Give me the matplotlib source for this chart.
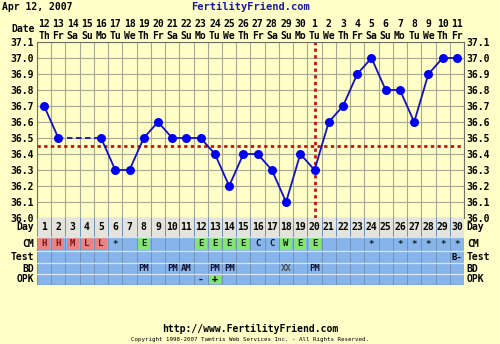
import matplotlib.pyplot as plt
import numpy as np

# cycle data
days = list(range(1, 31))
temps = [36.7, 36.5, None, None, 36.5, 36.3, 36.3, 36.5, 36.6, 36.5,
         36.5, 36.5, 36.4, 36.2, 36.4, 36.4, 36.3, 36.1, 36.4, 36.3,
         36.6, 36.7, 36.9, 37.0, 36.8, 36.8, 36.6, 36.9, 37.0, 37.0]
date_nums = ['12', '13', '14', '15', '16', '17', '18', '19', '20', '21',
             '22', '23', '24', '25', '26', '27', '28', '29', '30', '1',
             '2', '3', '4', '5', '6', '7', '8', '9', '10', '11']
weekdays = ['Th', 'Fr', 'Sa', 'Su', 'Mo', 'Tu', 'We', 'Th', 'Fr', 'Sa',
            'Su', 'Mo', 'Tu', 'We', 'Th', 'Fr', 'Sa', 'Su', 'Mo', 'Tu',
            'We', 'Th', 'Fr', 'Sa', 'Su', 'Mo', 'Tu', 'We', 'Th', 'Fr']
coverline = 36.45
ovulation_day = 20

cm = {1: 'H', 2: 'H', 3: 'M', 4: 'L', 5: 'L', 6: '*', 8: 'E', 12: 'E', 13: 'E',
      14: 'E', 15: 'E', 16: 'C', 17: 'C', 18: 'W', 19: 'E', 20: 'E', 24: '*',
      26: '*', 27: '*', 28: '*', 29: '*', 30: '*'}
test = {30: 'B-'}
bd = {8: 'PM', 10: 'PM', 11: 'AM', 13: 'PM', 14: 'PM', 18: 'XX', 20: 'PM'}
opk = {12: '-', 13: '+'}

BG = '#FFFFC8'
BLUE_CELL = '#88B4EC'
PINK = '#E88484'
GREEN = '#84E474'
FONT = 'DejaVu Sans Mono'

fig = plt.figure(figsize=(5, 3.44), dpi=100, facecolor=BG)

# temperature chart
ax = fig.add_axes([37 / 500, 126 / 344, 427 / 500, 176 / 344], facecolor=BG)
ax.set_xlim(0.5, 30.5)
ax.set_ylim(36.0, 37.1)
for x in np.arange(0.5, 31, 1):
    ax.axvline(x, color='#A8A890', lw=0.8, zorder=1)
for y in np.arange(36.0, 37.15, 0.1):
    ax.axhline(y, color='#A8A890', lw=0.8, zorder=1)
for s in ax.spines.values():
    s.set_color('#707060')

# connected segments, dashed across missing days
x_known = [d for d, t in zip(days, temps) if t is not None]
t_known = [t for t in temps if t is not None]
for i in range(len(x_known) - 1):
    style = '-' if x_known[i + 1] - x_known[i] == 1 else (0, (3, 2))
    ax.plot(x_known[i:i + 2], t_known[i:i + 2], color='#1010C0', lw=1.3,
            linestyle=style, zorder=3)
ax.scatter(x_known, t_known, s=30, color='#0000F0', zorder=4)

ax.axhline(coverline, color='#CC1010', lw=2, linestyle=(0, (1.2, 1.2)), zorder=2)
ax.axvline(ovulation_day, color='#CC1010', lw=2, linestyle=(0, (1.2, 1.2)), zorder=2)

ticks = np.round(np.arange(36.0, 37.15, 0.1), 1)
ax.set_yticks(ticks)
ax.set_yticklabels([f'{t:.1f}' for t in ticks], fontsize=7, fontweight='bold', family=FONT)
ax.tick_params(axis='y', length=0, pad=2, labelright=True)
ax.set_xticks(days)
ax.set_xticklabels([f'{n}\n{w}' for n, w in zip(date_nums, weekdays)],
                   fontsize=7, fontweight='bold', family=FONT, linespacing=1.15)
ax.tick_params(axis='x', length=0, pad=1, labeltop=True, labelbottom=False)

# observation table
tb = fig.add_axes([37 / 500, 59 / 344, 427 / 500, 67 / 344])
tb.set_xlim(0.5, 30.5)
tb.set_ylim(67, 0)
tb.axis('off')
rows = [('Day', 0, 19), ('CM', 19, 33), ('Test', 33, 45), ('BD', 45, 56), ('OPK', 56, 67)]
for name, y0, y1 in rows:
    fill = '#E4E4DC' if name == 'Day' else BLUE_CELL
    tb.fill_between([0.5, 30.5], y0, y1, color=fill, lw=0)
    tb.text(0.3, (y0 + y1) / 2, name, ha='right', va='center', fontsize=7,
            fontweight='bold', family=FONT)
    tb.text(30.7, (y0 + y1) / 2, name, ha='left', va='center', fontsize=7,
            fontweight='bold', family=FONT)

for d in days:
    tb.text(d, 9.5, str(d), ha='center', va='center', fontsize=7,
            fontweight='bold', family=FONT)
for d, v in cm.items():
    c = PINK if v in 'HML' else (GREEN if v in 'EW' else None)
    if c:
        tb.fill_between([d - 0.42, d + 0.42], 20, 32, color=c, lw=0)
    tb.text(d, 26, v, ha='center', va='center', fontsize=6.5, fontweight='bold',
            family=FONT, color='#801010' if v in 'HML' else '#102010')
for d, v in test.items():
    tb.text(d, 39, v, ha='center', va='center', fontsize=6.5, fontweight='bold', family=FONT)
for d, v in bd.items():
    tb.text(d, 50.5, v, ha='center', va='center', fontsize=6.5, fontweight='bold',
            family=FONT, color='#505050' if v == 'XX' else '#101030')
for d, v in opk.items():
    if v == '+':
        tb.fill_between([d - 0.42, d + 0.42], 57, 66, color=GREEN, lw=0)
    tb.text(d, 61.5, v, ha='center', va='center', fontsize=7, fontweight='bold', family=FONT)

for x in np.arange(0.5, 31, 1):
    tb.plot([x, x], [0, 67], color='#7090B8', lw=0.7)
for _, y0, y1 in rows[1:]:
    tb.plot([0.5, 30.5], [y0, y0], color='#D8E4F4', lw=0.9)
tb.plot([0.5, 30.5], [67, 67], color='#6080A8', lw=1)

# header / footer text
fig.text(35 / 500, 1 - 29 / 344, 'Date', ha='right', va='center', fontsize=7,
         fontweight='bold', family=FONT)
fig.text(2 / 500, 1 - 7 / 344, 'Apr 12, 2007', ha='left', va='center', fontsize=7,
         fontweight='bold', family=FONT)
fig.text(250 / 500, 1 - 7 / 344, 'FertilityFriend.com', ha='center', va='center',
         fontsize=7.5, fontweight='bold', family=FONT, color='#1818A0')
fig.text(250 / 500, 1 - 329 / 344, 'http://www.FertilityFriend.com', ha='center',
         va='center', fontsize=7, fontweight='bold', family=FONT)
fig.text(250 / 500, 1 - 340 / 344,
         'Copyright 1998-2007 Tamtris Web Services Inc. - All Rights Reserved.',
         ha='center', va='center', fontsize=4.2, family=FONT)

fig.savefig('out.png', dpi=100, facecolor=BG)
